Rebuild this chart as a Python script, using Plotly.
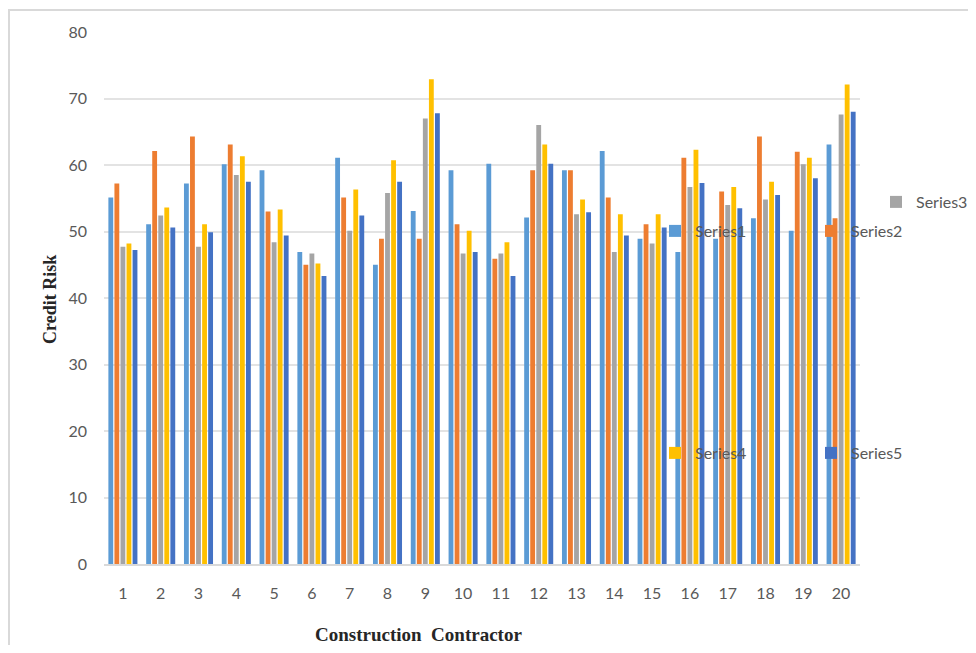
import plotly.graph_objects as go

categories = [str(i) for i in range(1, 21)]
series_names = ["Series1", "Series2", "Series3", "Series4", "Series5"]
series1 = [55.1, 51.1, 57.2, 60.1, 59.2, 46.9, 61.1, 45.0, 53.1, 59.2, 60.2, 52.1, 59.2, 62.1, 48.9, 46.9, 48.9, 52.0, 50.1, 63.1]
series2 = [57.2, 62.1, 64.3, 63.1, 53.0, 45.0, 55.1, 48.9, 48.9, 51.1, 45.9, 59.2, 59.2, 55.1, 51.1, 61.1, 56.0, 64.3, 62.0, 52.0]
series3 = [47.7, 52.4, 47.7, 58.5, 48.4, 46.7, 50.1, 55.8, 67.0, 46.7, 46.7, 66.0, 52.6, 46.9, 48.2, 56.7, 54.0, 54.8, 60.1, 67.6]
series4 = [48.2, 53.6, 51.1, 61.3, 53.3, 45.2, 56.3, 60.7, 72.9, 50.1, 48.4, 63.1, 54.8, 52.6, 52.6, 62.3, 56.7, 57.5, 61.1, 72.1]
series5 = [47.2, 50.6, 49.9, 57.5, 49.4, 43.3, 52.4, 57.5, 67.8, 46.9, 43.3, 60.2, 52.9, 49.4, 50.6, 57.3, 53.5, 55.5, 58.0, 68.0]
y_ticks = [0, 10, 20, 30, 40, 50, 60, 70, 80]

colors = ["#5B9BD5", "#ED7D31", "#A5A5A5", "#FFC000", "#4472C4"]
legend_ids = ["legend", "legend", "legend2", "legend3", "legend3"]
all_series = [series1, series2, series3, series4, series5]

# page has an 8px body margin; figure sized to fit the window without scrollbars
OFF = 8
W, H = 976 - 2 * OFF, 653 - 2 * OFF
# plot area in screen pixels: x 104..860, y 32..564
ML, MT = 104 - OFF, 32 - OFF
MR = W - (860 - OFF)
MB = H - (564 - OFF)
PW, PH = W - ML - MR, H - MT - MB


def px(x):
    return (x - OFF - ML) / PW


def py(y):
    return (H - MB - (y - OFF)) / PH


fig = go.Figure()
for name, vals, col, lg in zip(series_names, all_series, colors, legend_ids):
    fig.add_trace(go.Bar(x=categories, y=vals, name=name, marker_color=col,
                         marker_line_width=0, legend=lg))

tick_font = dict(family="Lato, 'Open Sans', sans-serif", size=16, color="#595959")
leg_font = dict(family="Lato, 'Open Sans', sans-serif", size=16, color="#595959")

fig.update_layout(
    width=W, height=H,
    margin=dict(l=ML, r=MR, t=MT, b=MB, autoexpand=False),
    paper_bgcolor="white", plot_bgcolor="white",
    barmode="group", bargap=0.2, bargroupgap=0.2,
    font=tick_font,
    xaxis=dict(type="category", showgrid=False, showline=True, linecolor="#d9d9d9",
               linewidth=1.5, ticks="", tickfont=tick_font, ticklabelstandoff=14),
    yaxis=dict(range=[0, 80], tickvals=y_ticks, showgrid=True, gridcolor="#e3e3e3",
               gridwidth=1.5, zeroline=False, showline=False, ticks="",
               tickfont=tick_font, ticklabelstandoff=16),
    legend=dict(orientation="h", x=px(655), y=py(231), xanchor="left", yanchor="middle",
                font=leg_font, bgcolor="rgba(0,0,0,0)", entrywidth=111,
                entrywidthmode="pixels"),
    legend2=dict(orientation="h", x=px(876), y=py(202), xanchor="left", yanchor="middle",
                 font=leg_font, bgcolor="rgba(0,0,0,0)"),
    legend3=dict(orientation="h", x=px(655), y=py(453), xanchor="left", yanchor="middle",
                 font=leg_font, bgcolor="rgba(0,0,0,0)", entrywidth=111,
                 entrywidthmode="pixels"),
    shapes=[dict(type="rect", xref="paper", yref="paper",
                 x0=px(9), x1=px(1000), y0=py(680), y1=py(10),
                 line=dict(color="#d9d9d9", width=2), layer="below")],
    annotations=[
        dict(text="<b>Credit Risk</b>", xref="paper", yref="paper", x=px(50), y=py(300),
             textangle=-90, showarrow=False, xanchor="center", yanchor="middle",
             font=dict(family="'Liberation Serif', 'Times New Roman', serif", size=18, color="#262626")),
        dict(text="<b>Construction  Contractor</b>", xref="paper", yref="paper", x=px(418), y=py(634),
             showarrow=False, xanchor="center", yanchor="middle",
             font=dict(family="'Liberation Serif', 'Times New Roman', serif", size=19, color="#262626")),
    ],
)

fig.write_html("out.html")
